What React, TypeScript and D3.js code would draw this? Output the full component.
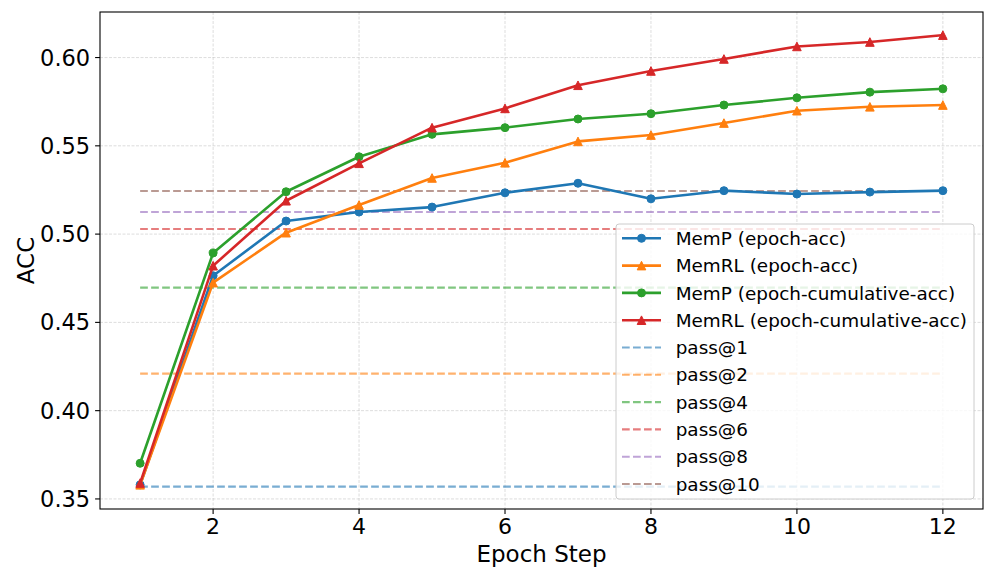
import React from "react";
import * as d3 from "d3";

const epochs = [1, 2, 3, 4, 5, 6, 7, 8, 9, 10, 11, 12];
const mempEpochAcc = [0.358, 0.4764, 0.5074, 0.5125, 0.5153, 0.5234, 0.5288, 0.52, 0.5246, 0.5227, 0.5238, 0.5246];
const memrlEpochAcc = [0.358, 0.4725, 0.5008, 0.5165, 0.5318, 0.5404, 0.5525, 0.5561, 0.5629, 0.5699, 0.5721, 0.5731];
const mempCumAcc = [0.3702, 0.4893, 0.524, 0.5438, 0.5565, 0.5603, 0.5652, 0.5682, 0.5731, 0.5772, 0.5804, 0.5823];
const memrlCumAcc = [0.359, 0.4821, 0.5189, 0.5401, 0.5603, 0.5712, 0.5843, 0.5924, 0.5992, 0.6063, 0.6088, 0.6127];

const passLabels = ["pass@1", "pass@2", "pass@4", "pass@6", "pass@8", "pass@10"];
const passValues = [0.357, 0.421, 0.4697, 0.5029, 0.5125, 0.5244];
const passColors = ["#1f77b4", "#ff7f0e", "#2ca02c", "#d62728", "#9467bd", "#8c564b"];

const xTicks = [2, 4, 6, 8, 10, 12];
const yTicks = [0.35, 0.4, 0.45, 0.5, 0.55, 0.6];

const series = [
  { label: "MemP (epoch-acc)", values: mempEpochAcc, color: "#1f77b4", marker: "circle" },
  { label: "MemRL (epoch-acc)", values: memrlEpochAcc, color: "#ff7f0e", marker: "triangle" },
  { label: "MemP (epoch-cumulative-acc)", values: mempCumAcc, color: "#2ca02c", marker: "circle" },
  { label: "MemRL (epoch-cumulative-acc)", values: memrlCumAcc, color: "#d62728", marker: "triangle" },
];

const W = 996;
const H = 581;
const L = 100, R = 983, T = 12, B = 509;
const FONT = "DejaVu Sans, sans-serif";

function Marker({ type, x, y, color }: { type: string; x: number; y: number; color: string }) {
  if (type === "circle") return <circle cx={x} cy={y} r={4} fill={color} stroke={color} strokeWidth={1} />;
  const h = 4.3;
  return (
    <path
      d={`M${x},${y - h}L${x - h},${y + h}L${x + h},${y + h}Z`}
      fill={color}
      stroke={color}
      strokeWidth={1}
      strokeLinejoin="miter"
    />
  );
}

export default function App() {
  const x = d3.scaleLinear().domain([0.45, 12.55]).range([L, R]);
  const y = d3.scaleLinear().domain([0.3443, 0.6258]).range([B, T]);
  const line = d3
    .line<number>()
    .x((_, i) => x(epochs[i]))
    .y((d) => y(d));

  const legendX0 = 616, legendX1 = 974, legendY0 = 224, legendY1 = 499;
  const rowY0 = 238.3, rowStep = 27.3;
  const legendItems = [
    ...series.map((s) => ({ label: s.label, color: s.color, marker: s.marker, dashed: false })),
    ...passLabels.map((l, i) => ({ label: l, color: passColors[i], marker: "none", dashed: true })),
  ];

  return (
    <div style={{ position: "fixed", left: 0, top: 0 }}>
      <svg width={W} height={H} style={{ display: "block", background: "#fff" }} fontFamily={FONT}>
        <rect x={0} y={0} width={W} height={H} fill="#fff" />
        {/* grid */}
        <g stroke="#b0b0b0" strokeOpacity={0.55} strokeWidth={0.8} strokeDasharray="3,1.5">
          {xTicks.map((t) => (
            <line key={"gx" + t} x1={x(t)} x2={x(t)} y1={T} y2={B} />
          ))}
          {yTicks.map((t) => (
            <line key={"gy" + t} x1={L} x2={R} y1={y(t)} y2={y(t)} />
          ))}
        </g>
        {/* pass@k lines */}
        {passValues.map((v, i) => (
          <line
            key={"p" + i}
            x1={x(1)}
            x2={x(12)}
            y1={y(v)}
            y2={y(v)}
            stroke={passColors[i]}
            strokeOpacity={0.6}
            strokeWidth={2.1}
            strokeDasharray="7.7,3.3"
          />
        ))}
        {/* series */}
        {series.map((s) => (
          <g key={s.label}>
            <path d={line(s.values) || ""} fill="none" stroke={s.color} strokeWidth={2.6} strokeLinejoin="round" strokeLinecap="square" />
            {s.values.map((v, i) => (
              <Marker key={i} type={s.marker} x={x(epochs[i])} y={y(v)} color={s.color} />
            ))}
          </g>
        ))}
        {/* spines */}
        <rect x={L} y={T} width={R - L} height={B - T} fill="none" stroke="#000" strokeWidth={1.1} />
        {/* x ticks */}
        {xTicks.map((t) => (
          <g key={"xt" + t}>
            <line x1={x(t)} x2={x(t)} y1={B} y2={B + 4.9} stroke="#000" strokeWidth={1.1} />
            <text x={x(t)} y={534} textAnchor="middle" fontSize={22} fill="#000">
              {t}
            </text>
          </g>
        ))}
        {/* y ticks */}
        {yTicks.map((t) => (
          <g key={"yt" + t}>
            <line x1={L - 4.9} x2={L} y1={y(t)} y2={y(t)} stroke="#000" strokeWidth={1.1} />
            <text x={L - 9.8} y={y(t)} dy="0.36em" textAnchor="end" fontSize={22.5} fill="#000">
              {d3.format(".2f")(t)}
            </text>
          </g>
        ))}
        {/* axis labels */}
        <text x={(L + R) / 2} y={562} textAnchor="middle" fontSize={23} fill="#000">
          Epoch Step
        </text>
        <text transform={`translate(34,${(T + B) / 2}) rotate(-90)`} textAnchor="middle" fontSize={23} fill="#000">
          ACC
        </text>
        {/* legend */}
        <rect
          x={legendX0}
          y={legendY0}
          width={legendX1 - legendX0}
          height={legendY1 - legendY0}
          rx={3}
          fill="#fff"
          fillOpacity={0.8}
          stroke="#cccccc"
          strokeWidth={1}
        />
        {legendItems.map((it, i) => {
          const cy = rowY0 + i * rowStep;
          return (
            <g key={"lg" + i}>
              <line
                x1={622}
                x2={661}
                y1={cy}
                y2={cy}
                stroke={it.color}
                strokeWidth={it.dashed ? 2.1 : 2.6}
                strokeOpacity={it.dashed ? 0.6 : 1}
                strokeDasharray={it.dashed ? "7.7,3.3" : undefined}
              />
              {it.marker !== "none" && <Marker type={it.marker} x={641.5} y={cy} color={it.color} />}
              <text x={675.7} y={cy} dy="0.36em" fontSize={18.4} fill="#000">
                {it.label}
              </text>
            </g>
          );
        })}
      </svg>
    </div>
  );
}
